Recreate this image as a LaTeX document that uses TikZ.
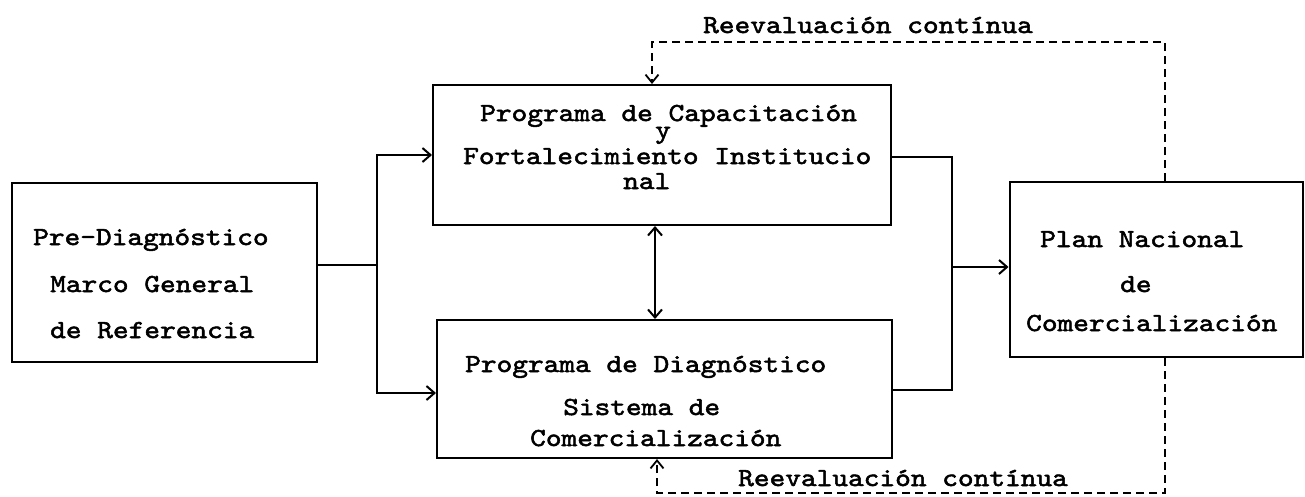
\documentclass[tikz,border=0pt]{standalone}
\usepackage{fontspec}
\usetikzlibrary{arrows.meta}
\newfontfamily\tw[FakeStretch=1.15,FakeBold=2]{lmmono10-regular.otf}
\begin{document}
\begin{tikzpicture}[x=1pt,y=-1pt,
  box/.style={draw,line width=2pt,inner sep=0pt,rectangle},
  txt/.style={inner sep=0pt,anchor=base west,font=\tw\fontsize{26}{30}\selectfont},
  conn/.style={line width=2pt},
  arr/.style={conn,-{Straight Barb[length=8pt,width=14pt,line width=2pt]}},
  biarr/.style={conn,{Straight Barb[length=8pt,width=14pt,line width=2pt]}-{Straight Barb[length=8pt,width=14pt,line width=2pt]}},
  dsh/.style={line width=1.8pt,dash pattern=on 8pt off 5pt,-{Straight Barb[length=8pt,width=13pt,line width=1.8pt]}}]
\useasboundingbox[fill=white] (0,0) rectangle (1305,496);

% boxes
\node[box,minimum width=305pt,minimum height=179pt] (pre) at (164.5,272.5) {};
\node[box,minimum width=458pt,minimum height=140pt] (cap) at (662,155) {};
\node[box,minimum width=455pt,minimum height=138pt] (diag) at (664.5,389) {};
\node[box,minimum width=293pt,minimum height=175pt] (plan) at (1156,269.5) {};

% texts
\node[txt] (pre1) at (33,245) {Pre-Diagnóstico};
\node[txt] (pre2) at (50,292) {Marco General};
\node[txt] (pre3) at (50,338) {de Referencia};

\node[txt] (cap1) at (480,121) {Programa de Capacitación};
\node[txt] (cap2) at (655,138) {y};
\node[txt] (cap3) at (463,164) {Fortalecimiento Institucio};
\node[txt] (cap4) at (623,189) {nal};

\node[txt] (diag1) at (465,372) {Programa de Diagnóstico};
\node[txt] (diag2) at (563,415) {Sistema de};
\node[txt] (diag3) at (530,446) {Comercialización};

\node[txt] (plan1) at (1040,247) {Plan Nacional};
\node[txt] (plan2) at (1120,292) {de};
\node[txt] (plan3) at (1026,331) {Comercialización};

\node[txt] (lbltop) at (703,33) {Reevaluación contínua};
\node[txt] (lblbot) at (738,486) {Reevaluación contínua};

% junction coordinates
\coordinate (j1) at (377,265);
\coordinate (j1t) at (377,155);
\coordinate (j1b) at (377,393);
\coordinate (j2) at (952,267);
\coordinate (j2t) at (952,157);
\coordinate (j2b) at (952,390);
\coordinate (mid) at (655,270);
\coordinate (tl) at (652,42);
\coordinate (tr) at (1165,42);
\coordinate (bl) at (657,493);
\coordinate (br) at (1165,493);

% connectors
\draw[conn] (pre.east |- j1) -- (j1);
\draw[arr] (j1) -- (j1t) -- (cap.west |- j1t);
\draw[arr] (j1) -- (j1b) -- (diag.west |- j1b);
\draw[conn] (cap.east |- j2t) -- (j2t) -- (j2b) -- (diag.east |- j2b);
\draw[arr] (j2) -- (plan.west |- j2);
\draw[biarr] (cap.south -| mid) -- (diag.north -| mid);

% feedback loops
\draw[dsh] (plan.north -| tr) -- (tr) -- (tl) -- (cap.north -| tl);
\draw[dsh] (plan.south -| br) -- (br) -- (bl) -- (diag.south -| bl);
\end{tikzpicture}
\end{document}
